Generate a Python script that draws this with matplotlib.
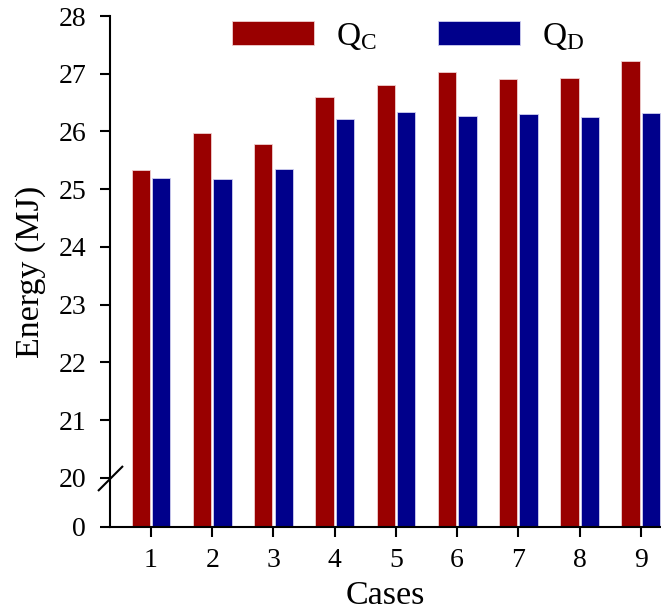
import matplotlib
matplotlib.use("Agg")
import matplotlib.pyplot as plt
import matplotlib.transforms as mtransforms
import numpy as np

cases = [1, 2, 3, 4, 5, 6, 7, 8, 9]
q_c = [25.33, 25.98, 25.79, 26.59, 26.80, 27.03, 26.91, 26.93, 27.22]
q_d = [25.20, 25.18, 25.35, 26.21, 26.34, 26.27, 26.30, 26.25, 26.32]
y_ticks = [0, 20, 21, 22, 23, 24, 25, 26, 27, 28]

plt.rcParams["font.family"] = ["Liberation Serif", "DejaVu Serif"]
plt.rcParams["mathtext.fontset"] = "custom"
plt.rcParams["mathtext.rm"] = "Liberation Serif"

GAP = 0.85  # height (in units above 20) given to the 0-20 range


def fwd(v):
    v = np.asarray(v, dtype=float)
    return np.where(v < 20, v * GAP / 20, GAP + v - 20)


def inv(u):
    u = np.asarray(u, dtype=float)
    return np.where(u < GAP, u * 20 / GAP, u - GAP + 20)


W, H = 661, 611
fig = plt.figure(figsize=(W / 100, H / 100), dpi=100)
ax = fig.add_axes([110 / W, (H - 527) / H, (W - 110) / W, (527 - 16) / H])
ax.set_yscale("function", functions=(fwd, inv))

x = np.array(cases)
bw = 0.30
ax.bar(x - 0.167, q_c, bw, color="#990000", edgecolor="#f0d0d0", linewidth=0.6,
       label=r"$\mathregular{Q_C}$")
ax.bar(x + 0.167, q_d, bw, color="#00008b", edgecolor="#d0d0f0", linewidth=0.6,
       label=r"$\mathregular{Q_D}$")

ax.set_xlim(0.33, 9.33)
ax.set_ylim(0, 28)
ax.set_xticks(cases)
ax.set_yticks(y_ticks)
ax.tick_params(axis="both", direction="out", length=7.2, width=1.5, labelsize=20)
ax.tick_params(axis="y", pad=10)
ax.tick_params(axis="x", pad=8)
for t in ax.yaxis.get_major_ticks():
    if t.get_loc() == 20:
        t.tick1line.set_visible(False)

for s in ["top", "right"]:
    ax.spines[s].set_visible(False)
for s in ["left", "bottom"]:
    ax.spines[s].set_linewidth(1.5)

# axis break mark at 20
trans = mtransforms.blended_transform_factory(ax.transAxes, ax.transData)
ax.plot([0], [20], transform=trans, marker=[(-1, -1), (1, 1)], markersize=18,
        markeredgewidth=1.5, color="black", clip_on=False, linestyle="none")

ax.set_xlabel("Cases", fontsize=24.5, labelpad=5)
ax.set_ylabel("Energy (MJ)", fontsize=24.5, labelpad=9)

ax.legend(loc="upper left", bbox_to_anchor=(232 / W, 1 - 21 / H),
          bbox_transform=fig.transFigure, ncol=2, frameon=False, fontsize=24,
          handlelength=2.45, handleheight=0.73, handletextpad=0.67,
          columnspacing=1.85, borderpad=0, borderaxespad=0)

fig.savefig("out.png", dpi=100)
